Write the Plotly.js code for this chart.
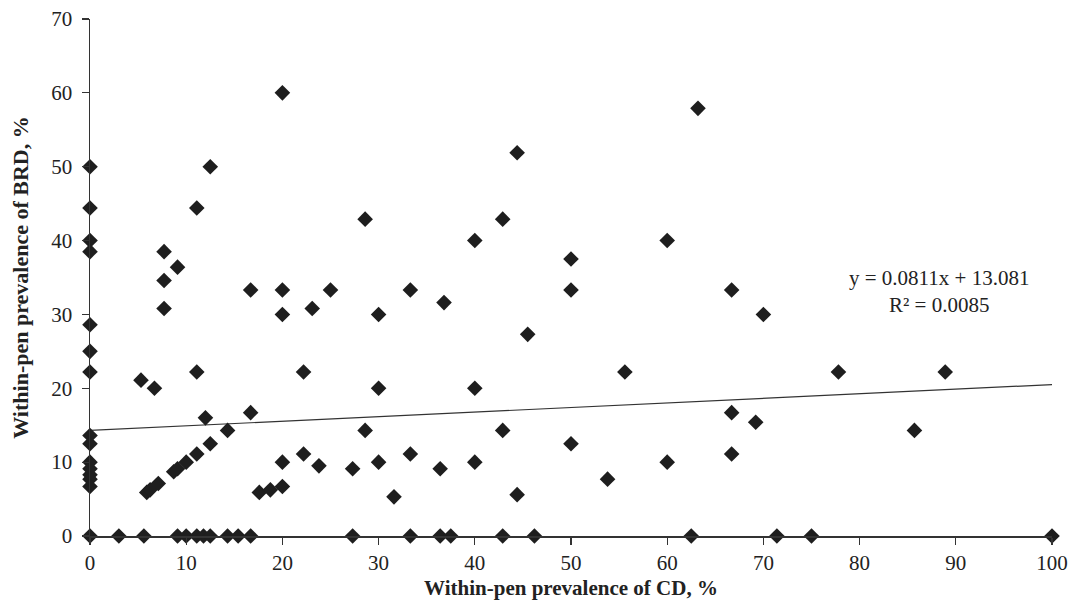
<!DOCTYPE html>
<html>
<head>
<meta charset="utf-8">
<script src="https://cdn.plot.ly/plotly-3.0.1.min.js"></script>
<style>html,body{margin:0;padding:0;background:#fff;}#chart{width:1069px;height:602px;}</style>
</head>
<body>
<div id="chart"></div>
<script>
// Within-pen prevalence of CD (%)
const cdPrevalence = [
  0,0,0,0,0,0,0,0,0,0,0,0,0,0,0,
  20,12.5,11.1,7.7,9.1,7.7,7.7,
  16.7,20,20,23.1,25,22.2,11.1,5.3,6.7,16.7,12,
  5.9,6.25,7.1,8.7,9.1,10,11.1,12.5,14.3,
  20,22.2,23.8,27.3,20,17.6,18.75,
  3.0,5.6,9.1,10,11.1,11.8,12.5,14.3,15.4,16.7,27.3,33.3,36.4,37.5,42.9,46.2,62.5,71.4,75,100,
  28.6,44.4,42.9,40,63.2,60,50,33.3,50,
  30,36.8,45.5,30,40,55.6,28.6,42.9,50,30,33.3,36.4,31.6,40,44.4,53.8,60,
  66.7,70,77.8,88.9,66.7,69.2,85.7,66.7
];
// Within-pen prevalence of BRD (%)
const brdPrevalence = [
  50,44.4,40,38.5,28.6,25,22.2,13.6,12.5,10,9.1,8.3,7.7,6.7,0,
  60,50,44.4,38.5,36.4,34.6,30.8,
  33.3,33.3,30,30.8,33.3,22.2,22.2,21.1,20,16.7,16,
  5.9,6.25,7.1,8.7,9.1,10,11.1,12.5,14.3,
  10,11.1,9.5,9.1,6.7,5.9,6.25,
  0,0,0,0,0,0,0,0,0,0,0,0,0,0,0,0,0,0,0,0,
  42.9,51.9,42.9,40,57.9,40,37.5,33.3,33.3,
  30,31.6,27.3,20,20,22.2,14.3,14.3,12.5,10,11.1,9.1,5.3,10,5.6,7.7,10,
  33.3,30,22.2,22.2,16.7,15.4,14.3,11.1
];
// Linear trend line as drawn
const trendX = [0, 100];
const trendY = [14.3, 20.5];
const xTicks = [0,10,20,30,40,50,60,70,80,90,100];
const yTicks = [0,10,20,30,40,50,60,70];
const eqText = "y = 0.0811x + 13.081<br>R² = 0.0085";

const serif = "Liberation Serif, Times New Roman, serif";
const dark = "#1e1e1e";
const txt = "#222";

const traces = [
  {
    x: trendX, y: trendY, type: "scatter", mode: "lines",
    line: {color: "#333", width: 1.2}, hoverinfo: "skip", showlegend: false
  },
  {
    x: cdPrevalence, y: brdPrevalence, type: "scatter", mode: "markers",
    marker: {symbol: "diamond", size: 12, color: dark, line: {width: 0}},
    cliponaxis: false, showlegend: false
  }
];

const layout = {
  width: 1069, height: 602,
  margin: {l: 90, r: 17, t: 19, b: 66},
  paper_bgcolor: "#fff", plot_bgcolor: "#fff",
  showlegend: false,
  font: {family: serif, size: 21, color: txt},
  xaxis: {
    range: [0, 100], tickvals: xTicks, ticktext: xTicks.map(String),
    showgrid: false, zeroline: false, showline: true, linecolor: "#333", linewidth: 1.5,
    ticks: "outside", ticklen: 7, tickcolor: "#333", tickwidth: 1.2,
    ticklabeloverflow: "allow",
    tickfont: {family: serif, size: 21, color: txt},
    title: {text: "<b>Within-pen prevalence of CD, %</b>", font: {family: serif, size: 21, color: txt}, standoff: 6}
  },
  yaxis: {
    range: [0, 70], tickvals: yTicks, ticktext: yTicks.map(String),
    showgrid: false, zeroline: false, showline: true, linecolor: "#333", linewidth: 1.5,
    ticks: "outside", ticklen: 7, tickcolor: "#333", tickwidth: 1.2,
    ticklabelstandoff: 5,
    tickfont: {family: serif, size: 21, color: txt},
    title: {text: "<b>Within-pen prevalence of BRD, %</b>", font: {family: serif, size: 22, color: txt}, standoff: 16}
  },
  annotations: [
    {x: 88.3, y: 33.1, xref: "x", yref: "y", text: eqText, showarrow: false,
     align: "center", font: {family: serif, size: 21, color: txt}}
  ]
};

Plotly.newPlot("chart", traces, layout, {displayModeBar: false, staticPlot: true});
</script>
</body>
</html>
